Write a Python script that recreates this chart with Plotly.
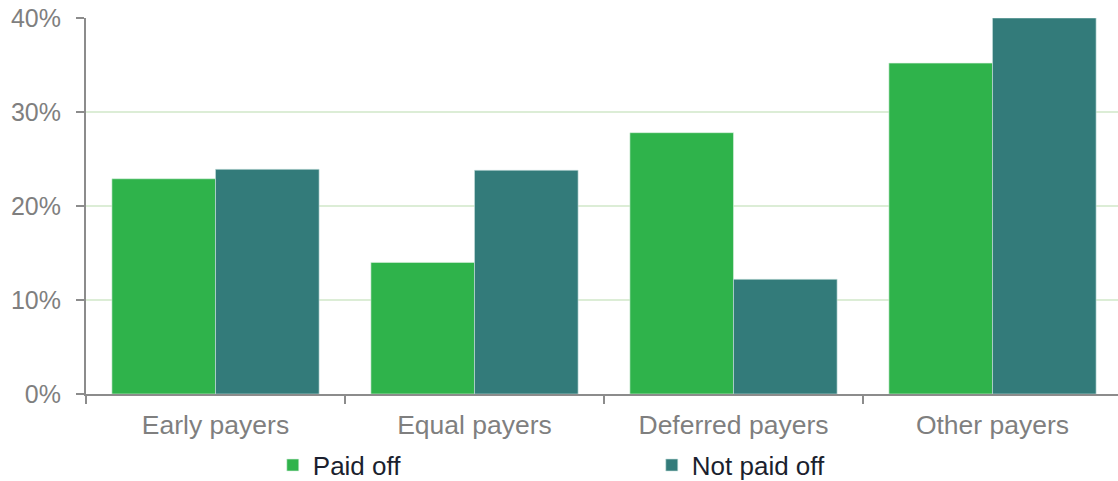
import plotly.graph_objects as go

categories = ["Early payers", "Equal payers", "Deferred payers", "Other payers"]
paid_off = [22.9, 14.0, 27.8, 35.2]
not_paid_off = [23.9, 23.8, 12.2, 40.0]
y_ticks = [0, 10, 20, 30, 40]
y_tick_labels = [f"{v}%" for v in y_ticks]

fig = go.Figure()
fig.add_trace(go.Bar(
    x=categories, y=paid_off, name="Paid off",
    marker=dict(color="#2fb34b", line=dict(color="rgba(220,240,225,0.6)", width=1)),
))
fig.add_trace(go.Bar(
    x=categories, y=not_paid_off, name="Not paid off",
    marker=dict(color="#337b7a", line=dict(color="rgba(200,225,222,0.6)", width=1)),
))

fig.update_layout(
    width=1118, height=481,
    margin=dict(l=86, r=0, t=18, b=87, autoexpand=False),
    barmode="group", bargap=0.2, bargroupgap=0,
    plot_bgcolor="white", paper_bgcolor="white",
    font=dict(family="Liberation Sans, Arial, sans-serif", color="#7f7f7f"),
    legend=dict(
        orientation="h", x=0.181, xanchor="left",
        yref="container", y=0.033, yanchor="middle",
        font=dict(size=26, color="#1b1f2e"),
        entrywidth=334, entrywidthmode="pixels", itemwidth=30,
        bgcolor="rgba(0,0,0,0)",
    ),
    xaxis=dict(
        automargin=False, range=[-0.5, 3.4846],
        showline=True, linecolor="#8c8c8c", linewidth=2,
        ticks="outside", tickson="boundaries", ticklen=8, tickcolor="#8c8c8c", tickwidth=2,
        ticklabelstandoff=6,
        tickfont=dict(size=26.5, color="#7f7f7f"),
    ),
    yaxis=dict(
        automargin=False,
        range=[0, 40], tickvals=y_ticks, ticktext=y_tick_labels,
        showline=True, linecolor="#8c8c8c", linewidth=2,
        ticks="outside", ticklen=8, tickcolor="#8c8c8c", tickwidth=2,
        ticklabelstandoff=10,
        gridcolor="#dcedd6", gridwidth=2, zeroline=False,
        tickfont=dict(size=25, color="#7f7f7f"),
    ),
)

fig.write_html("out.html")
